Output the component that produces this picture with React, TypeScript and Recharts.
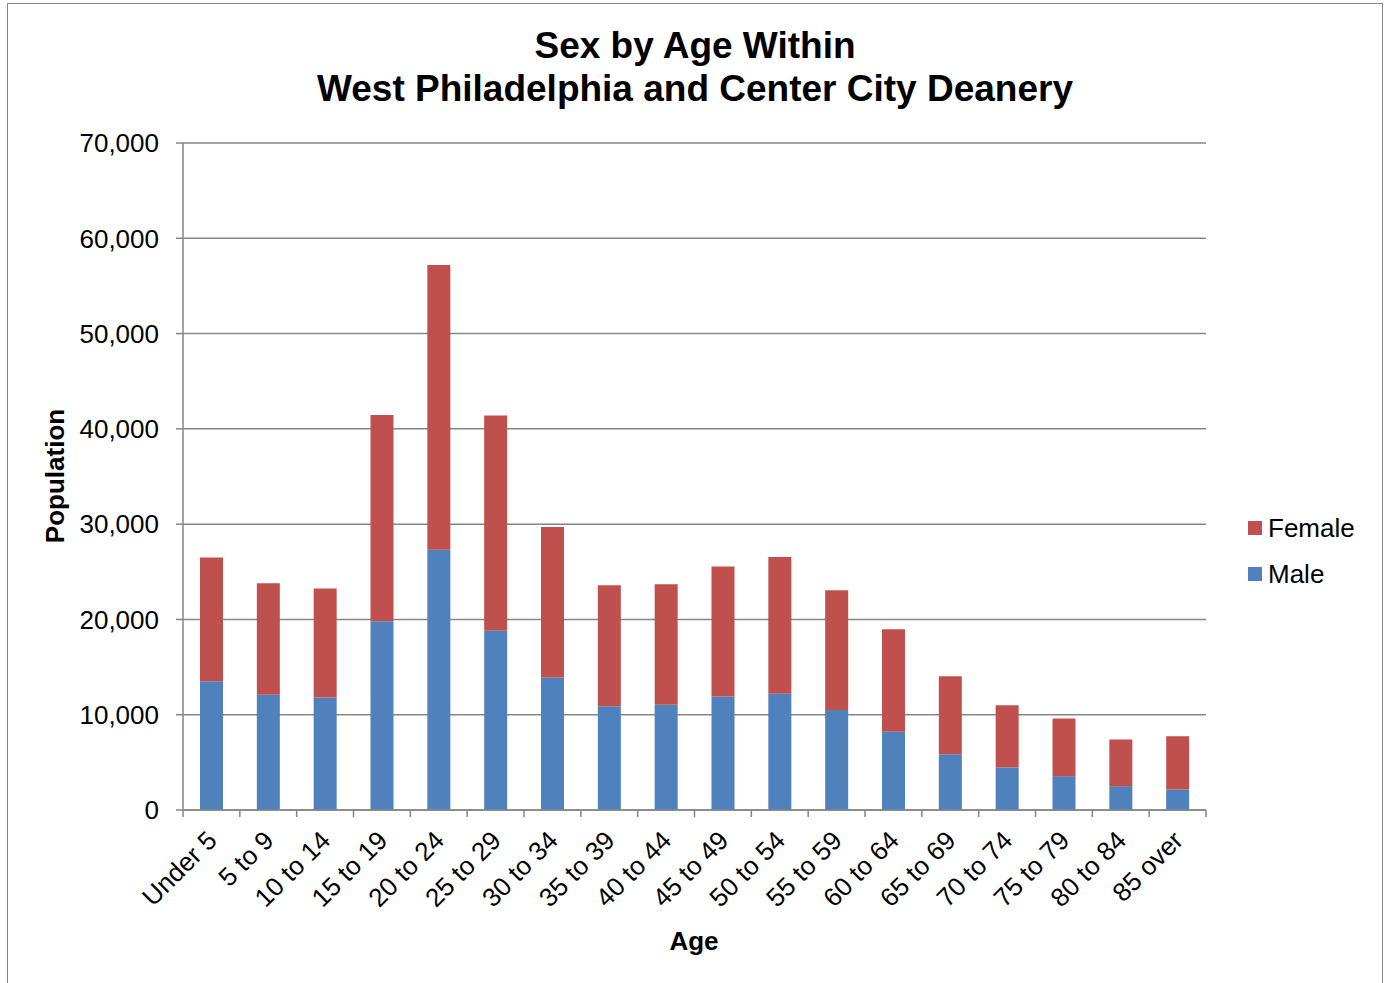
import { BarChart, Bar, XAxis, YAxis, CartesianGrid } from 'recharts';

const ageGroups = [
  'Under 5', '5 to 9', '10 to 14', '15 to 19', '20 to 24', '25 to 29',
  '30 to 34', '35 to 39', '40 to 44', '45 to 49', '50 to 54', '55 to 59',
  '60 to 64', '65 to 69', '70 to 74', '75 to 79', '80 to 84', '85 over'
];
const maleValues = [
  13500, 12100, 11800, 19800, 27300, 18800, 13900, 10900, 11050,
  11900, 12200, 10500, 8200, 5850, 4450, 3550, 2500, 2150
];
const femaleValues = [
  13000, 11700, 11450, 21650, 29900, 22600, 15800, 12700, 12650,
  13650, 14350, 12550, 10760, 8180, 6550, 6050, 4900, 5600
];
const yTicks = [0, 10000, 20000, 30000, 40000, 50000, 60000, 70000];

const data = ageGroups.map((age, i) => ({
  age,
  male: maleValues[i],
  female: femaleValues[i]
}));

const W = 1385;
const H = 983;
const FONT = '"Liberation Sans", Arial, sans-serif';
const GRID = '#868686';
const MALE = '#4F81BD';
const FEMALE = '#C0504D';
const margin = { top: 143, right: 179, bottom: 63, left: 83 };
const Y_AXIS_W = 100;
const plotW = W - margin.left - Y_AXIS_W - margin.right;
const band = plotW / ageGroups.length;

// Excel-style: tick marks sit between categories, labels at 45 degrees
function AgeTick(props: any) {
  const { x, y, payload, index } = props;
  const left = x - band / 2;
  const ax = x + 7;
  const ay = y + 32;
  return (
    <g>
      <line x1={left} y1={y} x2={left} y2={y + 7} stroke={GRID} strokeWidth={1.5} />
      {index === ageGroups.length - 1 && (
        <line x1={x + band / 2} y1={y} x2={x + band / 2} y2={y + 7} stroke={GRID} strokeWidth={1.5} />
      )}
      <text
        x={ax}
        y={ay}
        textAnchor="end"
        transform={`rotate(-45, ${ax}, ${ay})`}
        fontSize={26}
        fontFamily={FONT}
        fill="#000"
      >
        {payload.value}
      </text>
    </g>
  );
}

const legendItems = [
  { name: 'Female', color: FEMALE },
  { name: 'Male', color: MALE }
];

export default function App() {
  return (
    <div style={{ position: 'absolute', left: 0, top: 0, width: W, height: H, background: '#fff', overflow: 'hidden' }}>
      <div
        style={{
          position: 'absolute',
          left: 7,
          top: 3,
          width: 1376,
          height: 1000,
          border: `1.5px solid ${GRID}`,
          boxSizing: 'border-box'
        }}
      />
      <div
        style={{
          position: 'absolute',
          left: 0,
          top: 24,
          width: 1390,
          textAlign: 'center',
          fontFamily: FONT,
          fontWeight: 'bold',
          fontSize: 37,
          lineHeight: '43px',
          color: '#000'
        }}
      >
        Sex by Age Within
        <br />
        West Philadelphia and Center City Deanery
      </div>
      <div
        style={{
          position: 'absolute',
          left: 55,
          top: 476,
          transform: 'translate(-50%, -50%) rotate(-90deg)',
          fontFamily: FONT,
          fontWeight: 'bold',
          fontSize: 26,
          color: '#000',
          whiteSpace: 'nowrap'
        }}
      >
        Population
      </div>
      <div
        style={{
          position: 'absolute',
          left: 694,
          top: 941,
          transform: 'translate(-50%, -50%)',
          fontFamily: FONT,
          fontWeight: 'bold',
          fontSize: 26,
          color: '#000'
        }}
      >
        Age
      </div>
      <div style={{ position: 'absolute', left: 1248, top: 505, fontFamily: FONT, fontSize: 26, color: '#000' }}>
        {legendItems.map((it) => (
          <div key={it.name} style={{ display: 'flex', alignItems: 'center', height: 46 }}>
            <span style={{ width: 14, height: 14, background: it.color, marginRight: 6 }} />
            <span>{it.name}</span>
          </div>
        ))}
      </div>
      <BarChart width={W} height={H} data={data} margin={margin} barSize={23}>
        <CartesianGrid vertical={false} stroke={GRID} strokeWidth={1.5} />
        <XAxis
          dataKey="age"
          interval={0}
          height={110}
          axisLine={{ stroke: GRID, strokeWidth: 1.5 }}
          tickLine={false}
          tickSize={0}
          tickMargin={0}
          tick={<AgeTick />}
        />
        <YAxis
          width={Y_AXIS_W}
          domain={[0, 70000]}
          ticks={yTicks}
          interval={0}
          axisLine={{ stroke: GRID, strokeWidth: 1.5 }}
          tickLine={{ stroke: GRID, strokeWidth: 1.5 }}
          tickSize={7}
          tickMargin={17}
          tickFormatter={(v: number) => v.toLocaleString('en-US')}
          tick={{ fontSize: 26, fontFamily: FONT, fill: '#000' }}
        />
        <Bar dataKey="male" stackId="a" fill={MALE} isAnimationActive={false} name="Male" />
        <Bar dataKey="female" stackId="a" fill={FEMALE} isAnimationActive={false} name="Female" />
      </BarChart>
    </div>
  );
}
